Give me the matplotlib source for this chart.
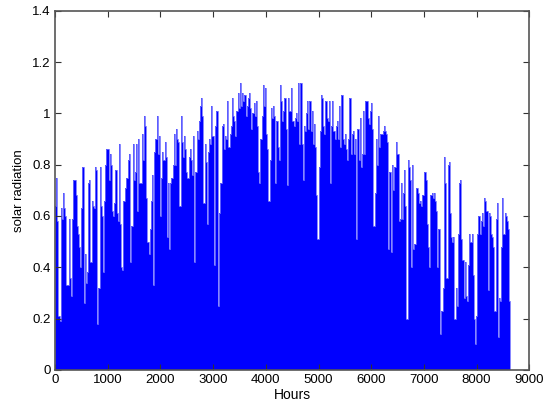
import matplotlib
matplotlib.use("Agg")
import matplotlib.pyplot as plt
import numpy as np

# daily peak solar radiation (about one value per day)
peaks = [
    0.64, 0.75, 0.58, 0.21, 0.19, 0.63, 0.59, 0.69, 0.63, 0.60, 0.33, 0.33, 0.59, 0.36, 0.29, 0.59,
    0.74, 0.74, 0.68, 0.56, 0.53, 0.48, 0.40, 0.63, 0.79, 0.26, 0.45, 0.34, 0.38, 0.73, 0.74, 0.42,
    0.66, 0.64, 0.63, 0.79, 0.78, 0.18, 0.32, 0.79, 0.64, 0.60, 0.38, 0.66, 0.80, 0.86, 0.86, 0.74,
    0.84, 0.80, 0.62, 0.60, 0.65, 0.78, 0.61, 0.58, 0.88, 0.57, 0.40, 0.39, 0.66, 0.71, 0.75, 0.75,
    0.82, 0.84, 0.42, 0.56, 0.88, 0.74, 0.77, 0.88, 0.62, 0.90, 0.73, 0.73, 0.92, 0.82, 0.99, 0.95,
    0.67, 0.50, 0.45, 0.55, 0.66, 0.76, 0.33, 0.85, 0.90, 0.99, 0.84, 0.91, 0.60, 0.75, 0.85, 0.82,
    0.89, 0.83, 0.52, 0.73, 0.47, 0.73, 0.75, 0.80, 0.92, 0.80, 0.94, 0.90, 0.89, 0.64, 0.99, 0.89,
    0.83, 0.91, 0.86, 0.77, 0.75, 0.83, 0.86, 0.82, 0.76, 0.91, 0.42, 0.77, 0.93, 0.90, 0.97, 1.03,
    1.06, 0.99, 0.65, 0.88, 0.81, 0.57, 0.85, 0.90, 0.88, 1.03, 0.91, 0.41, 0.95, 1.01, 1.01, 0.25,
    0.61, 0.73, 0.95, 0.96, 0.86, 0.91, 0.90, 1.05, 0.87, 0.92, 0.95, 1.06, 0.99, 0.97, 0.91, 1.01,
    1.08, 1.02, 1.12, 1.03, 1.08, 1.05, 1.07, 0.99, 1.03, 1.06, 1.08, 1.02, 0.94, 1.00, 1.04, 0.99,
    1.05, 0.95, 0.77, 0.73, 0.90, 0.99, 1.11, 1.03, 1.10, 0.92, 0.86, 0.66, 0.82, 1.02, 0.98, 1.03,
    0.99, 0.73, 0.97, 0.87, 0.82, 1.11, 1.05, 0.97, 1.01, 1.06, 0.94, 0.72, 1.06, 1.01, 1.01, 1.10,
    0.97, 0.95, 0.98, 1.00, 0.97, 1.12, 0.88, 1.12, 0.88, 0.74, 0.95, 0.93, 1.00, 1.05, 0.94, 1.05,
    0.93, 1.01, 0.88, 0.96, 0.87, 0.68, 0.51, 0.79, 0.93, 1.07, 1.06, 0.95, 0.92, 1.05, 0.98, 0.97,
    1.05, 0.73, 0.95, 1.05, 0.93, 0.90, 0.95, 0.97, 0.90, 1.03, 0.87, 1.07, 0.90, 0.88, 0.92, 0.86,
    0.82, 0.90, 1.06, 0.84, 0.92, 0.93, 0.84, 0.90, 0.51, 0.94, 0.82, 0.98, 0.79, 0.84, 1.01, 0.84,
    1.05, 1.05, 0.98, 0.96, 1.01, 1.04, 0.94, 0.56, 0.69, 0.90, 0.80, 0.99, 0.87, 0.92, 0.92, 0.93,
    0.95, 0.93, 0.92, 0.89, 0.47, 0.77, 0.46, 0.80, 0.70, 0.79, 0.79, 0.89, 0.84, 0.58, 0.59, 0.73,
    0.59, 0.69, 0.78, 0.64, 0.20, 0.82, 0.79, 0.74, 0.40, 0.80, 0.47, 0.49, 0.71, 0.71, 0.69, 0.65,
    0.66, 0.64, 0.68, 0.77, 0.77, 0.74, 0.57, 0.48, 0.40, 0.68, 0.69, 0.67, 0.69, 0.66, 0.62, 0.40,
    0.55, 0.14, 0.23, 0.23, 0.32, 0.83, 0.73, 0.36, 0.80, 0.81, 0.61, 0.52, 0.50, 0.52, 0.20, 0.32,
    0.25, 0.53, 0.73, 0.74, 0.51, 0.43, 0.28, 0.42, 0.29, 0.27, 0.41, 0.53, 0.50, 0.53, 0.37, 0.20,
    0.10, 0.21, 0.53, 0.60, 0.53, 0.58, 0.61, 0.56, 0.67, 0.66, 0.62, 0.31, 0.61, 0.60, 0.53, 0.52,
    0.48, 0.23, 0.59, 0.65, 0.13, 0.28, 0.27, 0.48, 0.67, 0.53, 0.61, 0.60, 0.58, 0.55, 0.27,
]
last_hour = 8640  # series stops at 360 days

n = len(peaks)
step = last_hour / n
edges = np.arange(n + 1) * step

plt.rcParams['font.family'] = ['Liberation Sans', 'DejaVu Sans']

fig = plt.figure(figsize=(5.43, 4.11), dpi=100)
ax = fig.add_axes([0.1013, 0.0998, 0.8735, 0.8742])
ax.stairs(peaks, edges, fill=True, color="#0000ff", linewidth=0)
# thin light edges like the original's outline at each drop
ax.stairs(peaks, edges, fill=False, color="#7070ff", linewidth=0.6)

ax.set_xlim(0, 9000)
ax.set_ylim(0, 1.4)
ax.set_xticks(np.arange(0, 9001, 1000))
ax.set_yticks(np.arange(0, 1.41, 0.2))
ax.set_yticklabels(["0", "0.2", "0.4", "0.6", "0.8", "1", "1.2", "1.4"])
ax.tick_params(direction="in", top=True, right=True, labelsize=9.5, length=4,
               color="#333333", width=0.8, pad=3)
for s in ax.spines.values():
    s.set_color("#555555")
    s.set_linewidth(1.2)
ax.set_xlabel("Hours", fontsize=10, labelpad=1)
ax.set_ylabel("solar radiation", fontsize=9.5, labelpad=5)

fig.savefig("out.png", dpi=100)
plt.close(fig)
